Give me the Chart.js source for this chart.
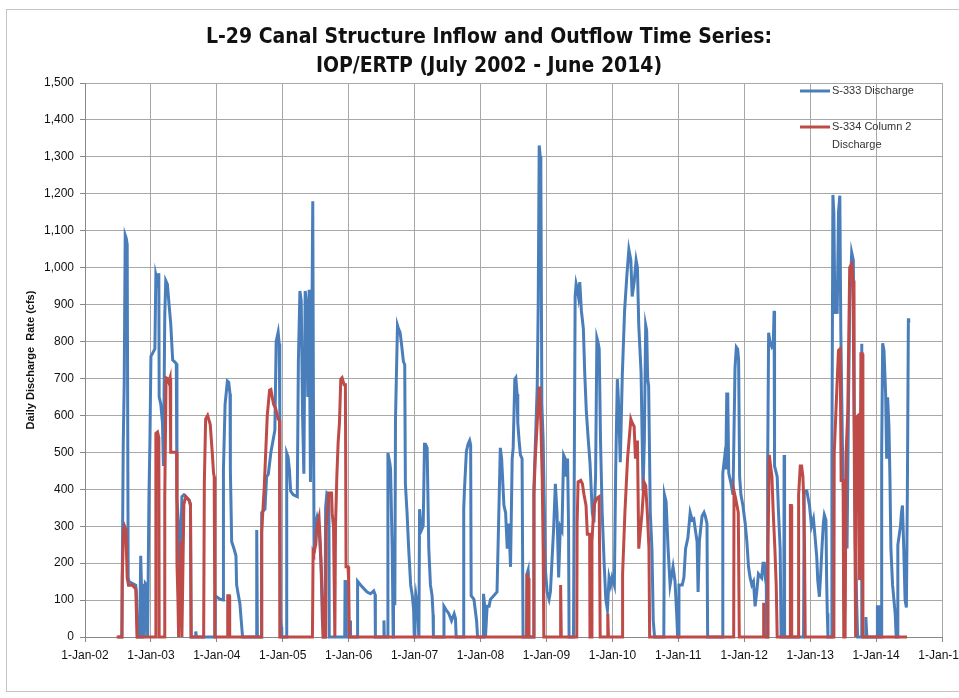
<!DOCTYPE html>
<html>
<head>
<meta charset="utf-8">
<script src="https://cdn.jsdelivr.net/npm/chart.js@4.4.0/dist/chart.umd.min.js"></script>
<style>
  html, body { margin: 0; padding: 0; background: #fff; }
</style>
</head>
<body>
<canvas id="flowChart" width="959" height="698"></canvas>
<script>
const titleLines = ["L-29 Canal Structure Inflow and Outflow Time Series:", "IOP/ERTP (July 2002 - June 2014)"];
const yearLabels = ["1-Jan-02", "1-Jan-03", "1-Jan-04", "1-Jan-05", "1-Jan-06", "1-Jan-07", "1-Jan-08",
                    "1-Jan-09", "1-Jan-10", "1-Jan-11", "1-Jan-12", "1-Jan-13", "1-Jan-14", "1-Jan-15"];
const yAxisLabel = "Daily Discharge  Rate (cfs)";
const seriesNames = ["S-333 Discharge", "S-334 Column 2", "Discharge"];

// [decimal year, cfs]
const s333 = [
  [2002.50, 0], [2002.56, 0], [2002.565, 160], [2002.58, 520], [2002.595, 690], [2002.61, 1088], [2002.625, 1080],
  [2002.64, 1063], [2002.655, 160], [2002.67, 150], [2002.72, 145], [2002.77, 140], [2002.78, 120], [2002.795, 0],
  [2002.83, 0], [2002.845, 220], [2002.855, 150], [2002.865, 0], [2002.875, 140], [2002.89, 140], [2002.90, 0],
  [2002.915, 145], [2002.935, 140], [2002.95, 0], [2002.97, 380], [2002.985, 530], [2003.00, 760], [2003.03, 770],
  [2003.06, 780], [2003.075, 980], [2003.10, 960], [2003.12, 985], [2003.125, 650], [2003.15, 630], [2003.175, 580],
  [2003.19, 463], [2003.21, 870], [2003.225, 965], [2003.25, 955], [2003.275, 900], [2003.30, 850], [2003.33, 750],
  [2003.36, 745], [2003.385, 740], [2003.395, 375], [2003.42, 300], [2003.43, 240], [2003.44, 150], [2003.47, 380],
  [2003.50, 385], [2003.58, 370], [2003.60, 355], [2003.61, 0], [2003.67, 0], [2003.68, 15], [2003.69, 0],
  [2003.97, 0], [2003.975, 112], [2004.00, 108], [2004.05, 102], [2004.095, 100], [2004.10, 454], [2004.125, 630],
  [2004.16, 693], [2004.18, 690], [2004.20, 658], [2004.205, 454], [2004.225, 258], [2004.26, 239], [2004.29, 220],
  [2004.30, 141], [2004.32, 120], [2004.35, 90], [2004.37, 44], [2004.39, 0], [2004.60, 0], [2004.605, 290],
  [2004.615, 0], [2004.675, 0], [2004.68, 337], [2004.73, 346], [2004.755, 434], [2004.78, 440], [2004.82, 500],
  [2004.88, 560], [2004.90, 800], [2004.93, 825], [2004.945, 795], [2004.955, 620], [2004.965, 50], [2004.975, 28],
  [2004.985, 0], [2005.05, 0], [2005.06, 498], [2005.08, 488], [2005.10, 454], [2005.12, 395], [2005.16, 385],
  [2005.22, 380], [2005.237, 749], [2005.26, 937], [2005.28, 910], [2005.30, 604], [2005.32, 442], [2005.34, 937],
  [2005.36, 900], [2005.38, 650], [2005.40, 940], [2005.42, 420], [2005.44, 800], [2005.455, 1180], [2005.465, 650],
  [2005.475, 226], [2005.49, 300], [2005.52, 324], [2005.55, 298], [2005.58, 199], [2005.60, 46], [2005.62, 0],
  [2005.64, 0], [2005.65, 350], [2005.67, 390], [2005.70, 385], [2005.705, 0], [2005.94, 0], [2005.945, 150],
  [2005.96, 150], [2005.965, 0], [2006.02, 0], [2006.025, 45], [2006.03, 0], [2006.13, 0], [2006.135, 151],
  [2006.18, 141], [2006.23, 131], [2006.28, 122], [2006.33, 117], [2006.38, 125], [2006.40, 115], [2006.405, 0],
  [2006.53, 0], [2006.535, 45], [2006.54, 0], [2006.59, 0], [2006.595, 498], [2006.625, 470], [2006.635, 454],
  [2006.66, 239], [2006.675, 0], [2006.68, 90], [2006.70, 90], [2006.71, 590], [2006.74, 844], [2006.755, 835],
  [2006.78, 824], [2006.80, 795], [2006.83, 746], [2006.85, 737], [2006.86, 415], [2006.885, 337], [2006.91, 239],
  [2006.94, 141], [2006.965, 112], [2006.985, 73], [2006.995, 0], [2007.005, 83], [2007.02, 112], [2007.04, 83],
  [2007.065, 0], [2007.075, 346], [2007.10, 288], [2007.13, 300], [2007.15, 522], [2007.165, 522], [2007.19, 512],
  [2007.215, 239], [2007.24, 141], [2007.265, 112], [2007.28, 60], [2007.285, 0], [2007.44, 0], [2007.445, 83],
  [2007.48, 73], [2007.52, 63], [2007.56, 44], [2007.60, 63], [2007.62, 50], [2007.63, 0], [2007.74, 0],
  [2007.745, 346], [2007.755, 395], [2007.785, 502], [2007.81, 522], [2007.835, 532], [2007.85, 520], [2007.858, 112],
  [2007.90, 102], [2007.94, 44], [2007.955, 0], [2008.04, 0], [2008.045, 117], [2008.06, 90], [2008.075, 0],
  [2008.10, 83], [2008.13, 83], [2008.15, 102], [2008.20, 112], [2008.25, 122], [2008.30, 512], [2008.32, 483],
  [2008.355, 356], [2008.38, 337], [2008.405, 239], [2008.43, 307], [2008.455, 190], [2008.48, 483], [2008.495, 512],
  [2008.52, 698], [2008.535, 702], [2008.555, 658], [2008.565, 580], [2008.585, 532], [2008.605, 493], [2008.63, 483],
  [2008.645, 0], [2008.70, 0], [2008.705, 171], [2008.72, 180], [2008.725, 0], [2008.80, 0], [2008.81, 405],
  [2008.86, 678], [2008.875, 900], [2008.89, 1331], [2008.905, 1302], [2008.915, 1263], [2008.93, 630], [2008.95, 532],
  [2008.985, 180], [2009.01, 122], [2009.04, 102], [2009.06, 122], [2009.11, 298], [2009.135, 415], [2009.16, 337],
  [2009.185, 161], [2009.21, 298], [2009.235, 288], [2009.26, 493], [2009.285, 483], [2009.30, 434], [2009.32, 483],
  [2009.335, 300], [2009.343, 0], [2009.41, 0], [2009.42, 375], [2009.435, 922], [2009.45, 956], [2009.47, 940],
  [2009.485, 922], [2009.505, 961], [2009.53, 883], [2009.56, 834], [2009.58, 717], [2009.605, 610], [2009.635, 532],
  [2009.66, 473], [2009.695, 337], [2009.72, 310], [2009.745, 434], [2009.765, 810], [2009.78, 800], [2009.80, 780],
  [2009.82, 532], [2009.845, 337], [2009.875, 200], [2009.90, 102], [2009.925, 73], [2009.95, 161], [2009.975, 141],
  [2009.995, 161], [2010.03, 140], [2010.05, 450], [2010.075, 698], [2010.09, 649], [2010.12, 473], [2010.15, 707],
  [2010.185, 883], [2010.22, 980], [2010.25, 1049], [2010.28, 1020], [2010.30, 922], [2010.33, 960], [2010.36, 1020],
  [2010.38, 1000], [2010.40, 844], [2010.435, 717], [2010.465, 395], [2010.485, 532], [2010.505, 844], [2010.52, 830],
  [2010.535, 700], [2010.55, 680], [2010.575, 337], [2010.60, 239], [2010.62, 44], [2010.64, 0], [2010.78, 0],
  [2010.79, 385], [2010.815, 366], [2010.845, 239], [2010.875, 141], [2010.92, 190], [2010.95, 151], [2010.975, 63],
  [2010.99, 0], [2011.00, 0], [2011.01, 141], [2011.06, 141], [2011.085, 161], [2011.11, 239], [2011.145, 268],
  [2011.18, 337], [2011.21, 317], [2011.235, 320], [2011.26, 288], [2011.285, 258], [2011.30, 122], [2011.32, 260],
  [2011.36, 327], [2011.39, 337], [2011.41, 327], [2011.435, 307], [2011.445, 0], [2011.67, 0], [2011.675, 444],
  [2011.70, 483], [2011.72, 454], [2011.735, 658], [2011.75, 658], [2011.765, 444], [2011.80, 415], [2011.83, 385],
  [2011.86, 727], [2011.88, 785], [2011.90, 780], [2011.915, 750], [2011.93, 434], [2011.95, 385], [2011.98, 356],
  [2012.015, 307], [2012.04, 258], [2012.065, 190], [2012.09, 160], [2012.115, 141], [2012.14, 150], [2012.165, 83],
  [2012.19, 122], [2012.215, 171], [2012.265, 160], [2012.285, 200], [2012.305, 200], [2012.32, 160], [2012.335, 141],
  [2012.34, 0], [2012.35, 0], [2012.355, 454], [2012.37, 824], [2012.39, 800], [2012.42, 785], [2012.44, 790],
  [2012.453, 883], [2012.46, 463], [2012.50, 434], [2012.52, 337], [2012.545, 239], [2012.56, 0], [2012.60, 0],
  [2012.605, 493], [2012.612, 0], [2012.90, 0], [2012.91, 395], [2012.95, 395], [2012.97, 375], [2012.99, 356],
  [2013.02, 300], [2013.05, 320], [2013.075, 270], [2013.10, 217], [2013.115, 154], [2013.14, 109], [2013.16, 172],
  [2013.18, 244], [2013.20, 307], [2013.215, 330], [2013.24, 316], [2013.25, 154], [2013.26, 64], [2013.27, 0],
  [2013.32, 0], [2013.33, 478], [2013.345, 1197], [2013.36, 1146], [2013.375, 875], [2013.39, 965], [2013.41, 875],
  [2013.43, 1150], [2013.45, 1195], [2013.465, 830], [2013.49, 514], [2013.505, 397], [2013.515, 73], [2013.525, 244],
  [2013.56, 244], [2013.58, 600], [2013.60, 900], [2013.63, 1041], [2013.655, 1020], [2013.67, 600], [2013.685, 250],
  [2013.71, 64], [2013.72, 0], [2013.78, 0], [2013.783, 794], [2013.79, 0], [2013.84, 0], [2013.845, 54],
  [2013.86, 0], [2014.015, 0], [2014.02, 82], [2014.04, 82], [2014.05, 0], [2014.08, 0], [2014.085, 500],
  [2014.10, 795], [2014.12, 775], [2014.145, 658], [2014.16, 483], [2014.175, 649], [2014.195, 570], [2014.21, 434],
  [2014.225, 239], [2014.25, 141], [2014.29, 63], [2014.305, 0], [2014.32, 0], [2014.33, 249], [2014.37, 300],
  [2014.385, 337], [2014.40, 356], [2014.42, 239], [2014.44, 100], [2014.46, 80], [2014.475, 400], [2014.49, 863],
  [2014.495, 850]
];

const s334 = [
  [2002.48, 0], [2002.56, 0], [2002.565, 160], [2002.585, 290], [2002.60, 300], [2002.62, 290], [2002.64, 160],
  [2002.66, 140], [2002.72, 140], [2002.77, 130], [2002.79, 0], [2003.07, 0], [2003.075, 551], [2003.10, 555],
  [2003.12, 540], [2003.125, 0], [2003.20, 0], [2003.21, 380], [2003.23, 702], [2003.25, 700], [2003.27, 690],
  [2003.29, 702], [2003.30, 500], [2003.33, 500], [2003.36, 500], [2003.39, 500], [2003.395, 200], [2003.41, 100],
  [2003.42, 0], [2003.44, 160], [2003.46, 260], [2003.47, 0], [2003.50, 360], [2003.53, 380], [2003.58, 370],
  [2003.60, 360], [2003.61, 0], [2003.80, 0], [2003.81, 415], [2003.83, 590], [2003.86, 600], [2003.90, 575],
  [2003.93, 500], [2003.95, 444], [2003.96, 434], [2003.97, 0], [2004.16, 0], [2004.165, 112], [2004.19, 112],
  [2004.195, 0], [2004.67, 0], [2004.68, 283], [2004.72, 410], [2004.765, 600], [2004.80, 668], [2004.82, 670],
  [2004.86, 630], [2004.89, 620], [2004.93, 590], [2004.95, 586], [2004.955, 0], [2005.45, 0], [2005.46, 230],
  [2005.47, 226], [2005.50, 250], [2005.52, 300], [2005.55, 324], [2005.57, 250], [2005.60, 109], [2005.61, 0],
  [2005.65, 0], [2005.66, 300], [2005.70, 390], [2005.74, 390], [2005.75, 334], [2005.77, 298], [2005.79, 0],
  [2005.80, 300], [2005.82, 434], [2005.84, 527], [2005.86, 580], [2005.88, 698], [2005.90, 702], [2005.93, 683],
  [2005.95, 683], [2005.96, 190], [2005.99, 190], [2006.00, 150], [2006.01, 0], [2008.70, 0], [2008.705, 171],
  [2008.715, 0], [2008.725, 160], [2008.735, 0], [2008.80, 0], [2008.81, 385], [2008.83, 483], [2008.86, 580],
  [2008.89, 678], [2008.90, 660], [2008.915, 580], [2008.935, 434], [2008.95, 239], [2008.96, 0], [2009.21, 0],
  [2009.215, 141], [2009.225, 0], [2009.46, 0], [2009.465, 307], [2009.48, 420], [2009.52, 424], [2009.545, 415],
  [2009.57, 385], [2009.60, 356], [2009.62, 278], [2009.655, 278], [2009.66, 0], [2009.685, 0], [2009.69, 258],
  [2009.72, 356], [2009.76, 375], [2009.80, 380], [2009.815, 0], [2009.925, 0], [2009.93, 63], [2009.94, 0],
  [2010.15, 0], [2010.155, 171], [2010.19, 337], [2010.23, 483], [2010.28, 590], [2010.30, 580], [2010.33, 570],
  [2010.35, 483], [2010.38, 532], [2010.40, 239], [2010.425, 288], [2010.45, 337], [2010.48, 420], [2010.505, 410],
  [2010.53, 337], [2010.555, 239], [2010.565, 0], [2011.84, 0], [2011.845, 395], [2011.87, 375], [2011.89, 356],
  [2011.91, 337], [2011.925, 0], [2012.29, 0], [2012.295, 93], [2012.30, 0], [2012.355, 0], [2012.36, 239],
  [2012.38, 493], [2012.395, 470], [2012.42, 434], [2012.44, 337], [2012.465, 239], [2012.485, 141], [2012.50, 0],
  [2012.695, 0], [2012.70, 356], [2012.715, 356], [2012.72, 0], [2012.82, 0], [2012.825, 385], [2012.85, 463],
  [2012.87, 463], [2012.89, 434], [2012.90, 385], [2012.915, 239], [2012.925, 0], [2013.36, 0], [2013.365, 496],
  [2013.40, 650], [2013.43, 776], [2013.455, 780], [2013.47, 424], [2013.50, 424], [2013.51, 0], [2013.53, 0],
  [2013.545, 496], [2013.57, 604], [2013.60, 1001], [2013.63, 1010], [2013.65, 965], [2013.665, 604], [2013.68, 244],
  [2013.69, 0], [2013.70, 595], [2013.73, 600], [2013.75, 154], [2013.77, 767], [2013.79, 767], [2013.80, 0],
  [2014.47, 0]
];

const blue = "#4a7ebb";
const red = "#be4b48";
const tickFont = '"Liberation Sans", Arial, sans-serif';
const narrowFont = '"DejaVu Sans Condensed", "Liberation Sans", sans-serif';

// white page with the thin grey frame of the original sheet
const framePlugin = {
  id: "frame",
  beforeDraw(chart) {
    const ctx = chart.ctx;
    ctx.save();
    ctx.fillStyle = "#fff";
    ctx.fillRect(0, 0, chart.width, chart.height);
    ctx.strokeStyle = "#c4c4c4";
    ctx.lineWidth = 1;
    ctx.strokeRect(6.5, 9.5, 1000, 682);
    ctx.restore();
  },
  afterDraw(chart) {
    const ctx = chart.ctx;
    ctx.save();
    ctx.fillStyle = "#111";
    ctx.textAlign = "center";
    ctx.textBaseline = "middle";
    ctx.font = "bold 21px " + narrowFont;
    ctx.fillText(titleLines[0], 489, 38);
    ctx.fillText(titleLines[1], 489, 67);

    // legend sits inside the plot, top right
    ctx.lineWidth = 3;
    ctx.strokeStyle = blue;
    ctx.beginPath(); ctx.moveTo(800, 91); ctx.lineTo(830, 91); ctx.stroke();
    ctx.strokeStyle = red;
    ctx.beginPath(); ctx.moveTo(800, 127); ctx.lineTo(830, 127); ctx.stroke();
    ctx.textAlign = "left";
    ctx.fillStyle = "#333";
    ctx.font = "11px " + tickFont;
    ctx.fillText(seriesNames[0], 832, 91);
    ctx.fillText(seriesNames[1], 832, 127);
    ctx.fillText(seriesNames[2], 832, 145);
    ctx.restore();
  }
};

const ctx = document.getElementById("flowChart").getContext("2d");
new Chart(ctx, {
  type: "line",
  data: {
    datasets: [
      {
        label: seriesNames[0],
        data: s333.map(p => ({ x: p[0], y: p[1] })),
        borderColor: blue,
        borderWidth: 3,
        pointRadius: 0,
        tension: 0,
        clip: false,
        order: 2,
      },
      {
        label: seriesNames[1] + " " + seriesNames[2],
        data: s334.map(p => ({ x: p[0], y: p[1] })),
        borderColor: red,
        borderWidth: 3,
        pointRadius: 0,
        tension: 0,
        clip: false,
        order: 1,
      },
    ],
  },
  options: {
    responsive: false,
    animation: false,
    events: [],
    layout: { padding: { top: 83, right: 17, left: 20, bottom: 0 } },
    plugins: {
      legend: { display: false },
      title: { display: false },
      tooltip: { enabled: false },
    },
    scales: {
      x: {
        type: "linear",
        min: 2002,
        max: 2015,
        ticks: {
          stepSize: 1,
          autoSkip: false,
          maxRotation: 0,
          padding: 6,
          color: "#111",
          font: { family: tickFont, size: 12 },
          callback: (v) => yearLabels[Math.round(v) - 2002],
        },
        grid: { color: "#a8a8a8", tickLength: 5, tickColor: "#888" },
        border: { color: "#888" },
        afterFit: (s) => { s.height = 61; s.paddingLeft = 0; s.paddingRight = 0; },
      },
      y: {
        min: 0,
        max: 1500,
        ticks: {
          stepSize: 100,
          padding: 6,
          color: "#111",
          font: { family: tickFont, size: 12 },
          callback: (v) => v.toLocaleString("en-US"),
        },
        title: {
          display: true,
          text: yAxisLabel,
          color: "#111",
          padding: 4,
          font: { family: tickFont, size: 11, weight: "bold" },
        },
        grid: { color: "#a8a8a8", tickLength: 5, tickColor: "#888" },
        border: { color: "#888" },
        afterFit: (s) => { s.width = 65; },
      },
    },
  },
  plugins: [framePlugin],
});
</script>
</body>
</html>
